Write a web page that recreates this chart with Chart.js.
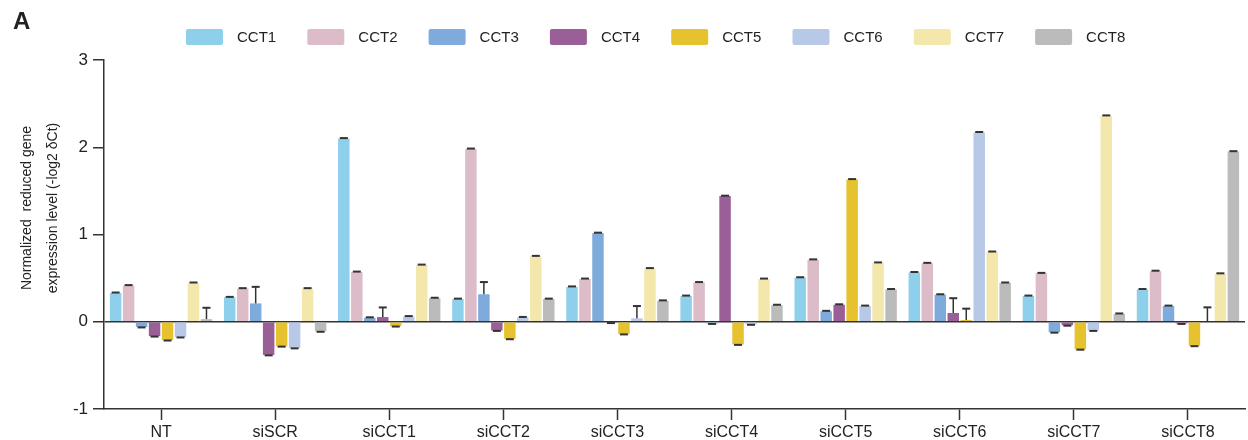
<!DOCTYPE html>
<html>
<head>
<meta charset="utf-8">
<script src="https://cdn.jsdelivr.net/npm/chart.js@4.4.0/dist/chart.umd.min.js"></script>
<style>
    body { margin: 0; background: #fff; }
    #wrap { position: relative; width: 1248px; height: 440px; }
    #panel { position: absolute; left: 13px; top: 7px; font: bold 24px "Liberation Sans", Arial, sans-serif; color: #222; }
</style>
</head>
<body>
<div id="wrap">
    <canvas id="chartBars" width="1248" height="440"></canvas>
    <div id="panel">A</div>
</div>
<script>

const categories = ["NT", "siSCR", "siCCT1", "siCCT2", "siCCT3", "siCCT4", "siCCT5", "siCCT6", "siCCT7", "siCCT8"];
const seriesNames = ["CCT1", "CCT2", "CCT3", "CCT4", "CCT5", "CCT6", "CCT7", "CCT8"];
const seriesColors = ["#8ecfec", "#dcbcc9", "#7eabdc", "#9b5f97", "#e6c22e", "#b8c9e8", "#f3e7ab", "#bbbbbb"];
const yTicks = [-1, 0, 1, 2, 3];

// mean values (-log2 dCt)
const cct1 = [0.33, 0.28, 2.10, 0.26, 0.40, 0.295, 0.505, 0.565, 0.295, 0.37];
const cct2 = [0.415, 0.38, 0.57, 1.98, 0.49, 0.45, 0.71, 0.67, 0.555, 0.58];
const cct3 = [-0.06, 0.21, 0.046, 0.315, 1.016, -0.02, 0.12, 0.31, -0.12, 0.18];
const cct4 = [-0.165, -0.38, 0.054, -0.10, -0.01, 1.44, 0.195, 0.10, -0.04, -0.02];
const cct5 = [-0.21, -0.28, -0.05, -0.195, -0.14, -0.26, 1.63, 0.02, -0.315, -0.275];
const cct6 = [-0.175, -0.30, 0.06, 0.05, 0.04, -0.03, 0.18, 2.17, -0.10, 0.0];
const cct7 = [0.445, 0.38, 0.65, 0.75, 0.61, 0.49, 0.675, 0.80, 2.36, 0.55];
const cct8 = [0.03, -0.11, 0.27, 0.26, 0.24, 0.19, 0.37, 0.445, 0.09, 1.95];

// error bar lengths
const err1 = [0.005, 0.005, 0.005, 0.005, 0.005, 0.005, 0.005, 0.005, 0.005, 0.005];
const err2 = [0.005, 0.005, 0.005, 0.005, 0.005, 0.005, 0.005, 0.005, 0.005, 0.005];
const err3 = [0.005, 0.19, 0.005, 0.14, 0.005, 0.005, 0.005, 0.005, 0.005, 0.005];
const err4 = [0.005, 0.005, 0.11, 0.005, 0.005, 0.005, 0.005, 0.17, 0.005, 0.005];
const err5 = [0.005, 0.005, 0.005, 0.005, 0.005, 0.005, 0.005, 0.13, 0.005, 0.005];
const err6 = [0.005, 0.005, 0.005, 0.005, 0.14, 0.005, 0.005, 0.005, 0.005, 0.165];
const err7 = [0.005, 0.005, 0.005, 0.005, 0.005, 0.005, 0.005, 0.005, 0.005, 0.005];
const err8 = [0.13, 0.005, 0.005, 0.005, 0.005, 0.005, 0.005, 0.005, 0.005, 0.005];

const values = [cct1, cct2, cct3, cct4, cct5, cct6, cct7, cct8];
const errors = [err1, err2, err3, err4, err5, err6, err7, err8];

const FONT = "'Liberation Sans', Arial, sans-serif";
const INK = "#333";

// draws the error whiskers in the direction of each bar
const errorBars = {
    id: "errorBars",
    afterDatasetsDraw(chart) {
        const ctx = chart.ctx;
        const y = chart.scales.y;
        ctx.save();
        ctx.strokeStyle = INK;
        chart.data.datasets.forEach((ds, i) => {
            chart.getDatasetMeta(i).data.forEach((bar, j) => {
                const v = ds.data[j];
                const dir = v < 0 ? -1 : 1;
                const yEnd = y.getPixelForValue(v);
                const yTip = y.getPixelForValue(v + dir * ds.errors[j]);
                ctx.lineWidth = 1.5;
                ctx.beginPath();
                ctx.moveTo(bar.x, yEnd);
                ctx.lineTo(bar.x, yTip);
                ctx.stroke();
                ctx.lineWidth = 2;
                ctx.beginPath();
                ctx.moveTo(bar.x - 4, yTip);
                ctx.lineTo(bar.x + 4, yTip);
                ctx.stroke();
            });
        });
        ctx.restore();
    }
};

// legend row on top, wide spacing like the figure
const topLegend = {
    id: "topLegend",
    afterDraw(chart) {
        const ctx = chart.ctx;
        const pitch = 121.3;
        ctx.save();
        ctx.font = "15px " + FONT;
        ctx.textBaseline = "middle";
        chart.data.datasets.forEach((ds, i) => {
            const x = 186 + i * pitch;
            ctx.fillStyle = ds.backgroundColor;
            ctx.beginPath();
            ctx.roundRect(x, 29, 37, 16, 2);
            ctx.fill();
            ctx.fillStyle = "#222";
            ctx.fillText(ds.label, x + 51, 38);
        });
        ctx.restore();
    }
};

// two-line y axis title
const yTitle = {
    id: "yTitle",
    afterDraw(chart) {
        const ctx = chart.ctx;
        ctx.save();
        ctx.translate(40, 208);
        ctx.rotate(-Math.PI / 2);
        ctx.fillStyle = "#222";
        ctx.font = "14px " + FONT;
        ctx.textAlign = "center";
        ctx.textBaseline = "middle";
        ctx.fillText("Normalized  reduced gene", 0, -13);
        ctx.fillText("expression level (-log2 \u03b4Ct)", 0, 13);
        ctx.restore();
    }
};

const chartCtx = document.getElementById("chartBars").getContext("2d");

const chart = new Chart(chartCtx, {
    type: "bar",
    data: {
        labels: categories,
        datasets: seriesNames.map((name, i) => ({
            label: name,
            data: values[i],
            errors: errors[i],
            backgroundColor: seriesColors[i],
            borderWidth: 0,
            categoryPercentage: 0.91,
            barPercentage: 0.885
        }))
    },
    options: {
        responsive: false,
        animation: false,
        layout: { padding: { top: 60, right: 3, left: 0, bottom: 0 } },
        plugins: {
            legend: { display: false },
            tooltip: { enabled: false }
        },
        scales: {
            x: {
                border: { display: true, color: INK, width: 1.5 },
                grid: { offset: false, drawOnChartArea: false, tickColor: INK, tickLength: 11, tickWidth: 1.5 },
                ticks: { color: "#222", font: { family: FONT, size: 16 }, padding: 3 },
                afterFit(scale) { scale.height = 31; }
            },
            y: {
                min: -1,
                max: 3,
                afterBuildTicks(scale) { scale.ticks = yTicks.map(v => ({ value: v })); },
                border: { display: true, color: INK, width: 1.5 },
                grid: {
                    color: c => (c.tick && c.tick.value === 0 ? INK : "transparent"),
                    lineWidth: 1.5,
                    tickColor: INK,
                    tickLength: 11,
                    tickWidth: 1.5
                },
                ticks: { color: "#222", font: { family: FONT, size: 17 }, padding: 5 },
                afterFit(scale) { scale.width = 104; }
            }
        }
    },
    plugins: [errorBars, topLegend, yTitle]
});

</script>
</body>
</html>
